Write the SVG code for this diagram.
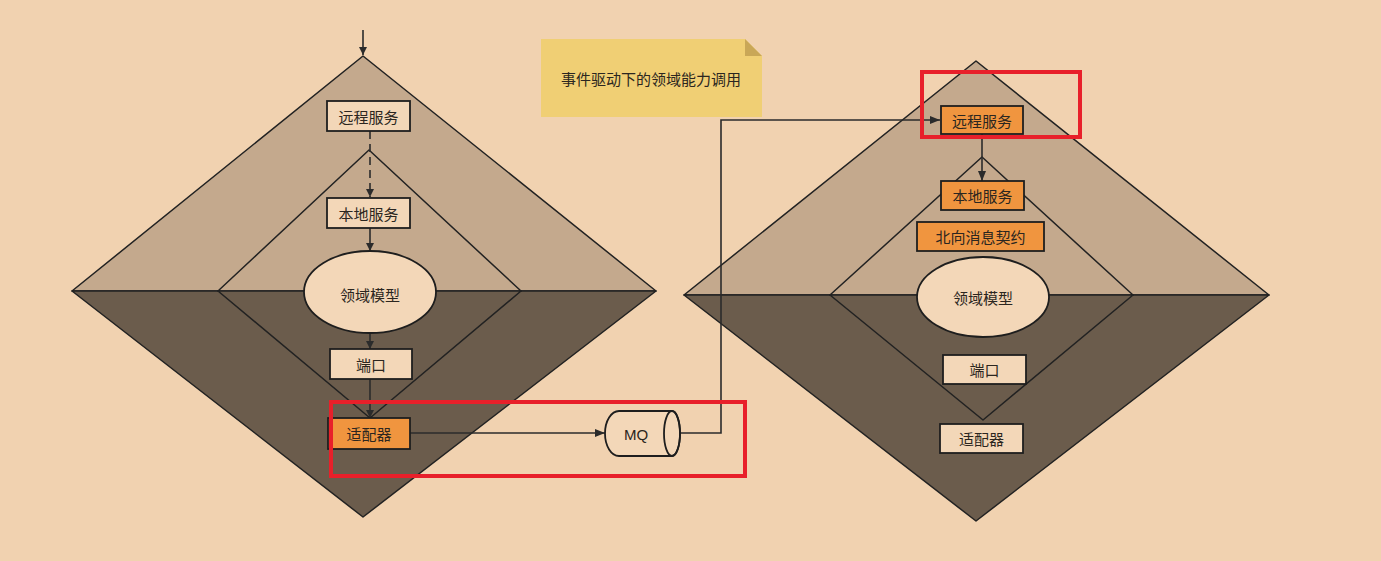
<svg xmlns="http://www.w3.org/2000/svg" width="1381" height="561" viewBox="0 0 1381 561">
<style>
.up{fill:#c4a98d;stroke:#222;stroke-width:1.5;stroke-linejoin:round}
.dn{fill:#6b5c4c;stroke:#222;stroke-width:1.5;stroke-linejoin:round}
.box{fill:#f3d7b8;stroke:#1e1e1e;stroke-width:1.8}
.org{fill:#f0953f;stroke:#1e1e1e;stroke-width:1.8}
.t{font-family:"Noto Sans CJK SC","Liberation Sans",sans-serif;font-size:15px;fill:#2b2620;text-anchor:middle;dominant-baseline:central}
.c{fill:none;stroke:#2b2b2b;stroke-width:1.6}
.red{fill:none;stroke:#e8202a;stroke-width:4}
</style>
<defs>
<marker id="ah" viewBox="0 0 10 10" refX="10" refY="5" markerWidth="8" markerHeight="9" orient="auto" markerUnits="userSpaceOnUse">
<path d="M0,0 L10,5 L0,10 z" fill="#2b2b2b"/>
</marker>
<marker id="ah2" viewBox="0 0 10 10" refX="10" refY="5" markerWidth="11" markerHeight="10" orient="auto" markerUnits="userSpaceOnUse">
<path d="M0,1 L10,5 L0,9 z" fill="#2b2b2b"/>
</marker>
</defs>
<rect width="1381" height="561" fill="#f1d2b0"/>

<g id="left-diamond">
<polygon class="up" points="72,291 363,56 656,291"/>
<polygon class="dn" points="72,291 656,291 363,517"/>
<polygon class="up" points="218,291 369,150 521,291"/>
<polygon class="dn" points="218,291 521,291 370,418"/>
</g>

<g id="right-diamond">
<polygon class="up" points="684,295 976,61 1269,295"/>
<polygon class="dn" points="684,295 1269,295 976,521"/>
<polygon class="up" points="830,295 982,157 1133,295"/>
<polygon class="dn" points="830,295 1133,295 983,420"/>
</g>

<g id="note">
<polygon points="541,39 745,39 762,56 762,117 541,117" fill="#f0cf74"/>
<polygon points="745,39 762,56 745,56" fill="#c9a757"/>
<text class="t" x="651" y="78">事件驱动下的领域能力调用</text>
</g>

<g id="connectors">
<line class="c" x1="363" y1="30" x2="363" y2="55" marker-end="url(#ah)"/>
<line class="c" x1="370" y1="131" x2="370" y2="197" stroke-dasharray="8,5" stroke-width="2.2" marker-end="url(#ah)"/>
<line class="c" x1="370" y1="228" x2="370" y2="251" marker-end="url(#ah)"/>
<line class="c" x1="370" y1="333" x2="370" y2="349" marker-end="url(#ah)"/>
<line class="c" x1="370" y1="379" x2="370" y2="418" marker-end="url(#ah)"/>
<line class="c" x1="410" y1="433" x2="605" y2="433" marker-end="url(#ah2)"/>
<polyline class="c" points="680,433 721,433 721,120 940,120" marker-end="url(#ah2)"/>
<line class="c" x1="982" y1="134" x2="982" y2="181" marker-end="url(#ah2)"/>
</g>

<g id="l-remote"><rect class="box" x="327" y="101" width="83" height="30"/><text class="t" x="368.5" y="116">远程服务</text></g>
<g id="l-local"><rect class="box" x="327" y="198" width="83" height="30"/><text class="t" x="368.5" y="213">本地服务</text></g>
<g id="l-model"><ellipse class="box" cx="370" cy="292" rx="66" ry="41"/><text class="t" x="370" y="294">领域模型</text></g>
<g id="l-port"><rect class="box" x="330" y="349" width="82" height="30"/><text class="t" x="371" y="364">端口</text></g>
<g id="l-adapter"><rect class="org" x="328" y="418" width="82" height="31"/><text class="t" x="369" y="433.5">适配器</text></g>

<g id="mq">
<path class="box" d="M619,411 L672,411 A8,22.5 0 0 1 672,456 L619,456 A14,22.5 0 0 1 619,411 Z"/>
<ellipse cx="672" cy="433.5" rx="8" ry="22.5" fill="none" stroke="#1e1e1e" stroke-width="1.8"/>
<text class="t" x="636" y="434" style="font-family:'Liberation Sans',sans-serif;font-size:15px">MQ</text>
</g>

<g id="r-remote"><rect class="org" x="941" y="106" width="82" height="28"/><text class="t" x="982" y="120">远程服务</text></g>
<g id="r-local"><rect class="org" x="941" y="181" width="83" height="29"/><text class="t" x="982.5" y="195.5">本地服务</text></g>
<g id="r-contract"><rect class="org" x="917" y="222" width="127" height="29"/><text class="t" x="980.5" y="236.5">北向消息契约</text></g>
<g id="r-model"><ellipse class="box" cx="983" cy="297" rx="66" ry="40"/><text class="t" x="983" y="297">领域模型</text></g>
<g id="r-port"><rect class="box" x="943" y="355" width="83" height="29"/><text class="t" x="984.5" y="369.5">端口</text></g>
<g id="r-adapter"><rect class="box" x="940" y="424" width="83" height="29"/><text class="t" x="981.5" y="438.5">适配器</text></g>

<g id="highlights">
<rect class="red" x="331" y="402" width="414" height="74"/>
<rect class="red" x="922" y="72" width="158" height="65"/>
</g>
</svg>
